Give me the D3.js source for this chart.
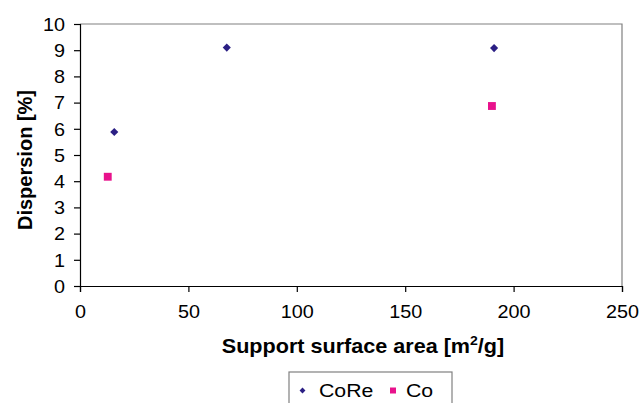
<!DOCTYPE html>
<html>
<head>
<meta charset="utf-8">
<script src="https://cdn.jsdelivr.net/npm/d3@7"></script>
<style>
  html, body { margin: 0; padding: 0; background: #fff; }
  svg { display: block; font-family: "Liberation Sans", Arial, sans-serif; }
</style>
</head>
<body>
<div id="chart"></div>
<script>
// surface area [m2/g] and dispersion [%]
const coReArea = [15.8, 67.7, 191];
const coReDisp = [5.88, 9.1, 9.08];
const coArea = [12.8, 190];
const coDisp = [4.17, 6.87];
const xTicks = [0, 50, 100, 150, 200, 250];
const yTicks = [0, 1, 2, 3, 4, 5, 6, 7, 8, 9, 10];

const W = 644, H = 403;
const margin = { left: 80, top: 24, right: 22, bottom: 117 };
const stretch = 1.1;

const svg = d3.select("#chart").append("svg").attr("width", W).attr("height", H);

const x = d3.scaleLinear().domain([0, 250]).range([margin.left, W - margin.right]);
const y = d3.scaleLinear().domain([0, 10]).range([H - margin.bottom, margin.top]);

// frame (top + right gray)
svg.append("path")
  .attr("d", `M${x(0)},${y(10)}H${x(250)}V${y(0)}`)
  .attr("fill", "none").attr("stroke", "#808080").attr("stroke-width", 1.2);

const xAxis = svg.append("g")
  .attr("transform", `translate(0,${y(0)})`)
  .call(d3.axisBottom(x).tickValues(xTicks).tickSize(6).tickPadding(0));
xAxis.select(".domain").attr("stroke", "#000").attr("stroke-width", 1.2);
xAxis.selectAll(".tick line").attr("stroke", "#000").attr("stroke-width", 1.2);
xAxis.selectAll("text")
  .attr("y", 0).attr("dy", null)
  .attr("transform", `translate(0,31.5) scale(${stretch},1)`)
  .style("font-size", "18px").attr("fill", "#000");

const yAxis = svg.append("g")
  .attr("transform", `translate(${x(0)},0)`)
  .call(d3.axisLeft(y).tickValues(yTicks).tickSize(6));
yAxis.select(".domain").attr("stroke", "#000").attr("stroke-width", 1.2);
yAxis.selectAll(".tick line").attr("stroke", "#000").attr("stroke-width", 1.2);
yAxis.selectAll("text")
  .attr("x", 0).attr("dy", "0.35em")
  .attr("transform", `translate(-15,0) scale(${stretch},1)`)
  .style("font-size", "18px").attr("fill", "#000");

// axis titles
const xTitle = svg.append("text")
  .attr("transform", `translate(363,353) scale(1.08,1)`)
  .attr("text-anchor", "middle")
  .style("font-size", "20px").style("font-weight", "bold");
xTitle.append("tspan").text("Support surface area [m");
xTitle.append("tspan").attr("dy", -8).style("font-size", "13px").text("2");
xTitle.append("tspan").attr("dy", 8).text("/g]");

svg.append("text")
  .attr("transform", "translate(32,160) rotate(-90)")
  .attr("text-anchor", "middle")
  .style("font-size", "20px").style("font-weight", "bold")
  .text("Dispersion [%]");

// points
const coRe = coReArea.map((a, i) => ({ a, d: coReDisp[i] }));
const co = coArea.map((a, i) => ({ a, d: coDisp[i] }));
const diamond = d3.symbol().type(d3.symbolDiamond2).size(42);
const square = d3.symbol().type(d3.symbolSquare).size(62);

svg.append("g").selectAll("path")
  .data(coRe).join("path")
  .attr("d", diamond)
  .attr("transform", d => `translate(${x(d.a)},${y(d.d)})`)
  .attr("fill", "#2b1f84");

svg.append("g").selectAll("path")
  .data(co).join("path")
  .attr("d", square)
  .attr("transform", d => `translate(${x(d.a)},${y(d.d)})`)
  .attr("fill", "#e8128c");

// legend
const lg = svg.append("g");
lg.append("rect")
  .attr("x", 289).attr("y", 372).attr("width", 163).attr("height", 40)
  .attr("fill", "#fff").attr("stroke", "#808080").attr("stroke-width", 1.2);
lg.append("path").attr("d", d3.symbol().type(d3.symbolDiamond2).size(22))
  .attr("transform", "translate(302.5,390.5)").attr("fill", "#2b1f84");
lg.append("text").attr("transform", `translate(319,397) scale(1.15,1)`)
  .style("font-size", "18.5px").text("CoRe");
lg.append("path").attr("d", d3.symbol().type(d3.symbolSquare).size(36))
  .attr("transform", "translate(393,390.5)").attr("fill", "#e8128c");
lg.append("text").attr("transform", `translate(406,397) scale(1.15,1)`)
  .style("font-size", "18.5px").text("Co");
</script>
</body>
</html>
